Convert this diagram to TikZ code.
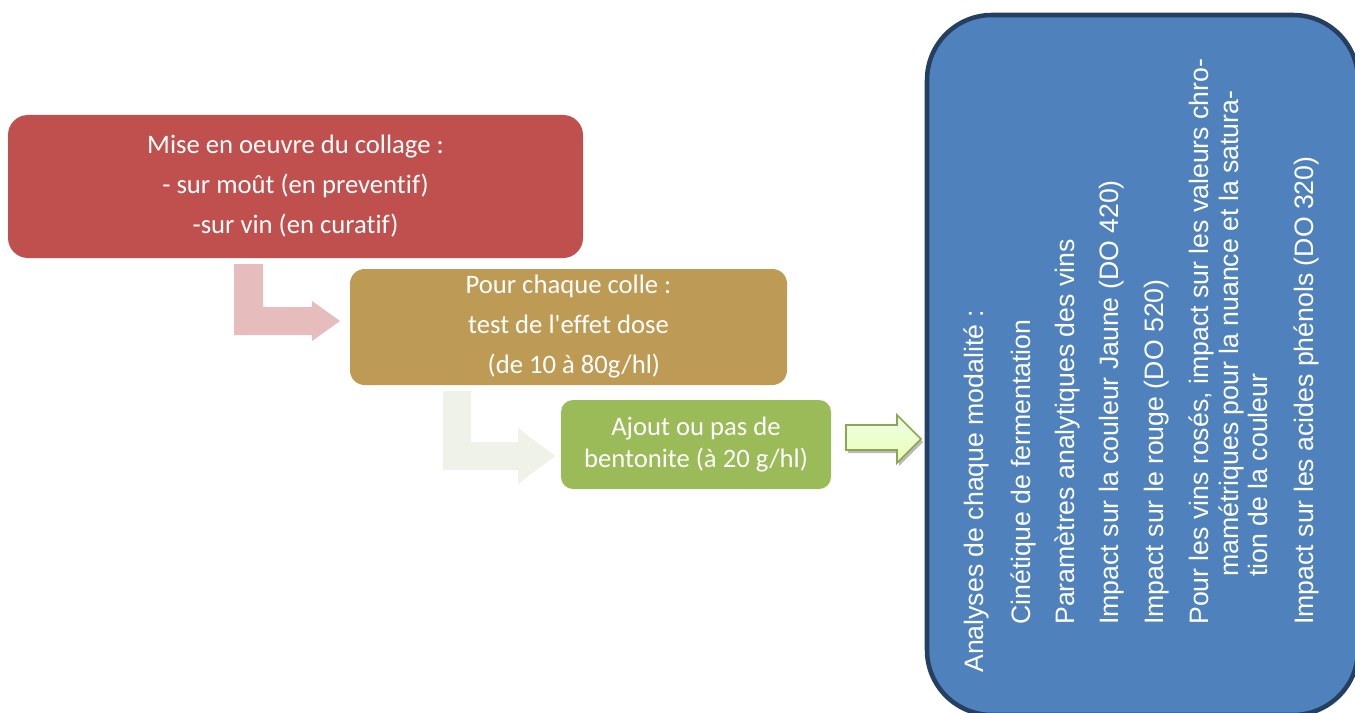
\documentclass[tikz,border=0pt]{standalone}
\usepackage{fontspec}
\setmainfont{Carlito}[Ligatures=CommonOff]
\newfontfamily\arialfont{Liberation Sans}
\usepackage{tikz}
\usetikzlibrary{positioning,calc}
\definecolor{collagered}{HTML}{C0504D}
\definecolor{colletan}{HTML}{BE9B55}
\definecolor{bentogreen}{HTML}{9BBB59}
\definecolor{analyseblue}{HTML}{4F81BD}
\definecolor{analyseborder}{HTML}{243F60}
\definecolor{arrowpink}{HTML}{E6BCBC}
\definecolor{arrowpale}{HTML}{EFF2E8}
\tikzset{
stepbox/.style={text=white, align=center, inner sep=0pt, font=\fontsize{20}{30}\selectfont},
bluetxt/.style={rotate=90, anchor=base west, text=white, inner sep=0pt, font=\arialfont\fontsize{20}{24}\selectfont},
}

\begin{document}
\begin{tikzpicture}[x=0.75pt,y=-0.75pt]
\useasboundingbox (0,0) rectangle (1355,713);
\clip (0,0) rectangle (1355,713);
% big box on the right, cut by the page edge
\node[draw=analyseborder, line width=3.4pt, fill=analyseblue, rounded corners=48.75pt, minimum width=323.25pt, minimum height=525pt] (analyses) at (1142.5,365) {};
\node[bluetxt] (ana0) at (983,673) {Analyses de chaque modalité :};
\node[bluetxt] (ana1) at (1030,625) {Cinétique de fermentation};
\node[bluetxt] (ana2) at (1074,625) {Paramètres analytiques des vins};
\node[bluetxt] (ana3) at (1118,625) {Impact sur la couleur Jaune (DO 420)};
\node[bluetxt] (ana4) at (1163,625) {Impact sur le rouge (DO 520)};
\node[bluetxt] (ana5) at (1208,625) {Pour les vins rosés, impact sur les valeurs chro-};
\node[bluetxt] (ana6) at (1238,577) {mamétriques pour la nuance et la satura-};
\node[bluetxt] (ana7) at (1267,577) {tion de la couleur};
\node[bluetxt] (ana8) at (1313,625) {Impact sur les acides phénols (DO 320)};
% the three steps
\node[stepbox, fill=collagered, rounded corners=15pt, minimum width=431.25pt, minimum height=107.25pt] (mise) at (295.5,186.5) {Mise en oeuvre du collage :\\- sur moût (en preventif)\\-sur vin (en curatif)};
\node[stepbox, fill=colletan, rounded corners=11pt, minimum width=327.75pt, minimum height=87pt] (colle) at (568.5,327) {Pour chaque colle :\\test de l\textquotesingle effet dose\\\hspace*{0.4em}(de 10 à 80g/hl)};
\node[stepbox, fill=bentogreen, rounded corners=9pt, minimum width=202.5pt, minimum height=66.75pt, font=\fontsize{20}{24}\selectfont] (bento) at (696,444.5) {Ajout ou pas de\\bentonite (à 20 g/hl)};
% bent arrows between the steps
\fill[arrowpink] (234,264) -- (263,264) -- (263,307) -- (312,307) -- (312,301) -- (340,321) -- (312,341) -- (312,335) -- (234,335) -- cycle;
\fill[arrowpale] (443,391) -- (471,391) -- (471,442) -- (518,442) -- (518,428) -- (555,456) -- (518,484) -- (518,470) -- (443,470) -- cycle;
% arrow to the analyses
\fill[gray!55, shift={(2,3)}] (846,425) -- (897,425) -- (897,415) -- (921,439) -- (897,463) -- (897,450) -- (846,450) -- cycle;
\draw[bentogreen!90!black, line width=1.2pt, top color=green!8, bottom color=green!25!yellow!30] (846,425) -- (897,425) -- (897,415) -- (921,439) -- (897,463) -- (897,450) -- (846,450) -- cycle;
\end{tikzpicture}
\end{document}
